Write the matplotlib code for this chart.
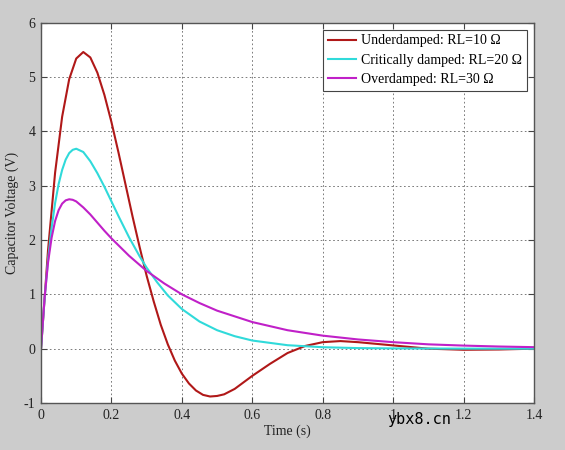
import matplotlib
matplotlib.use("Agg")
import matplotlib.pyplot as plt

# values
t_under = [0, 0.02, 0.04, 0.06, 0.08, 0.10, 0.12, 0.14, 0.16, 0.18, 0.20, 0.22, 0.24,
           0.26, 0.28, 0.30, 0.32, 0.34, 0.36, 0.38, 0.40, 0.42, 0.44, 0.46, 0.48,
           0.50, 0.52, 0.55, 0.60, 0.65, 0.70, 0.75, 0.80, 0.85, 0.90, 0.95, 1.00,
           1.10, 1.20, 1.30, 1.40]
v_under = [0, 1.82, 3.24, 4.27, 4.96, 5.34, 5.46, 5.36, 5.08, 4.67, 4.17, 3.61, 3.02,
           2.43, 1.87, 1.34, 0.87, 0.44, 0.08, -0.22, -0.46, -0.64, -0.77, -0.85, -0.88,
           -0.87, -0.84, -0.74, -0.50, -0.28, -0.08, 0.05, 0.12, 0.14, 0.12, 0.09, 0.06,
           0.0, -0.02, -0.015, 0.0]

t_crit = [0, 0.01, 0.02, 0.03, 0.04, 0.05, 0.06, 0.07, 0.08, 0.09, 0.10, 0.12, 0.14,
          0.16, 0.18, 0.20, 0.22, 0.25, 0.28, 0.30, 0.33, 0.36, 0.40, 0.45, 0.50,
          0.55, 0.60, 0.70, 0.80, 0.90, 1.00, 1.20, 1.40]
v_crit = [0, 0.91, 1.64, 2.22, 2.68, 3.03, 3.29, 3.48, 3.60, 3.66, 3.68, 3.62, 3.45,
          3.23, 2.98, 2.71, 2.44, 2.05, 1.70, 1.49, 1.22, 0.98, 0.73, 0.50, 0.34,
          0.23, 0.15, 0.064, 0.027, 0.011, 0.005, 0.001, 0]

t_over = [0, 0.01, 0.02, 0.03, 0.04, 0.05, 0.06, 0.07, 0.08, 0.09, 0.10, 0.12, 0.14,
          0.16, 0.18, 0.20, 0.25, 0.30, 0.35, 0.40, 0.45, 0.50, 0.60, 0.70, 0.80,
          0.90, 1.00, 1.10, 1.20, 1.30, 1.40]
v_over = [0, 0.93, 1.59, 2.04, 2.35, 2.55, 2.67, 2.73, 2.75, 2.74, 2.71, 2.60, 2.47,
          2.32, 2.17, 2.03, 1.71, 1.43, 1.20, 1.00, 0.84, 0.70, 0.49, 0.34, 0.24,
          0.17, 0.12, 0.08, 0.057, 0.04, 0.028]

labels = ["Underdamped: RL=10 \u03a9", "Critically damped: RL=20 \u03a9",
          "Overdamped: RL=30 \u03a9"]
xticks = [0, 0.2, 0.4, 0.6, 0.8, 1.0, 1.2, 1.4]
xticklabels = ["0", "0.2", "0.4", "0.6", "0.8", "1", "1.2", "1.4"]
yticks = [-1, 0, 1, 2, 3, 4, 5, 6]

plt.rcParams['font.family'] = ['Liberation Serif', 'DejaVu Serif']
plt.rcParams['font.size'] = 10
plt.rcParams['axes.unicode_minus'] = False

fig = plt.figure(figsize=(5.65, 4.5), dpi=100, facecolor='#cccccc')
ax = fig.add_axes([0.0726, 0.1044, 0.8726, 0.8452])

ax.plot(t_under, v_under, color='#b01818', lw=1.5, label=labels[0])
ax.plot(t_crit, v_crit, color='#30dada', lw=1.5, label=labels[1])
ax.plot(t_over, v_over, color='#c020c8', lw=1.5, label=labels[2])

ax.set_xlim(0, 1.4)
ax.set_ylim(-1, 6)
ax.set_xticks(xticks)
ax.set_xticklabels(xticklabels)
ax.set_yticks(yticks)
ax.tick_params(direction='in', length=4, color='#444444', labelcolor='#222222',
               top=True, right=True, pad=4)
ax.grid(True, linestyle=(0, (2, 3)), color='#666666', lw=0.6)
for s in ax.spines.values():
    s.set_color('#555555')
    s.set_linewidth(1.0)

ax.set_xlabel("Time (s)", color='#222222', labelpad=2)
ax.set_ylabel("Capacitor Voltage (V)", color='#222222')
ax.yaxis.set_label_coords(-0.045, 0.5)

leg = ax.legend(loc='upper right', fancybox=False, framealpha=1, edgecolor='#444444',
                handlelength=2.0, borderaxespad=0.5, labelspacing=0.45,
                handletextpad=0.4, borderpad=0.35)
leg.get_frame().set_linewidth(0.8)

fig.text(0.686, 0.058, "ybx8.cn", family='DejaVu Sans Mono', fontsize=11, color='black')

fig.savefig("out.png", dpi=100, facecolor=fig.get_facecolor())
